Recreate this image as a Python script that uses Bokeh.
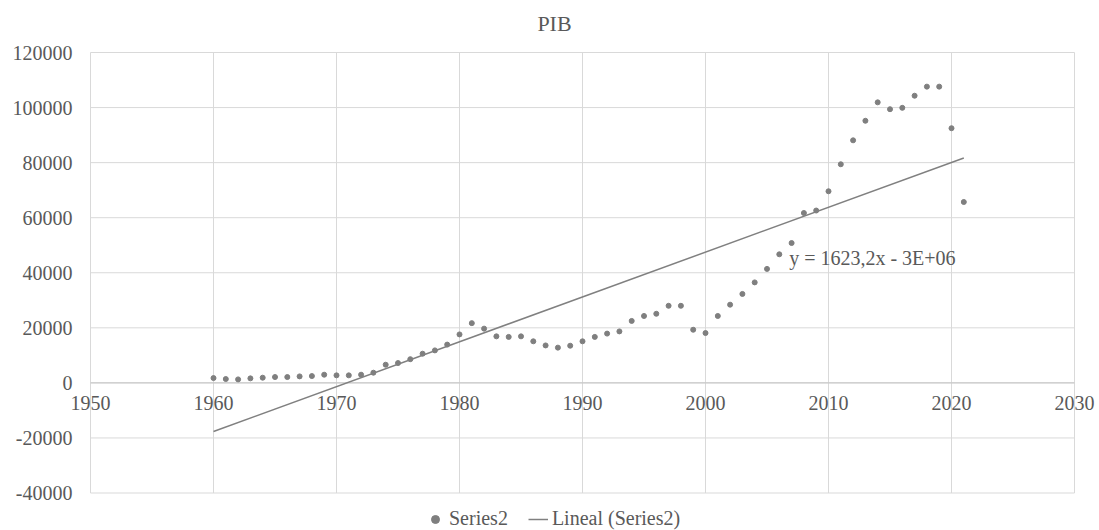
import numpy as np
from bokeh.plotting import figure
from bokeh.models import Legend, LegendItem, Label, ColumnDataSource, Range1d
from bokeh.core.properties import value
from bokeh.embed import file_html
from bokeh.resources import INLINE

years = [1960, 1961, 1962, 1963, 1964, 1965, 1966, 1967, 1968, 1969,
         1970, 1971, 1972, 1973, 1974, 1975, 1976, 1977, 1978, 1979,
         1980, 1981, 1982, 1983, 1984, 1985, 1986, 1987, 1988, 1989,
         1990, 1991, 1992, 1993, 1994, 1995, 1996, 1997, 1998, 1999,
         2000, 2001, 2002, 2003, 2004, 2005, 2006, 2007, 2008, 2009,
         2010, 2011, 2012, 2013, 2014, 2015, 2016, 2017, 2018, 2019,
         2020, 2021]
pib = [1750, 1400, 1270, 1640, 1880, 2120, 2120, 2360, 2480, 2970,
       2730, 2730, 2970, 3700, 6600, 7200, 8600, 10600, 11800, 13900,
       17600, 21700, 19700, 16900, 16700, 16900, 15100, 13600, 12800, 13500,
       15100, 16700, 17900, 18700, 22500, 24300, 25100, 28000, 28000, 19300,
       18100, 24300, 28400, 32300, 36500, 41400, 46700, 50800, 61700, 62600,
       69600, 79400, 88100, 95200, 101900, 99400, 99900, 104300, 107600, 107600,
       92500, 65700]
x_ticks = [1950, 1960, 1970, 1980, 1990, 2000, 2010, 2020, 2030]
y_ticks = [-40000, -20000, 0, 20000, 40000, 60000, 80000, 100000, 120000]
series_name = "Series2"
trend_name = "Lineal (Series2)"
equation = "y = 1623,2x - 3E+06"
title_text = "PIB"

# linear trend (least squares on the series)
slope, intercept = np.polyfit(np.array(years, dtype=float), np.array(pib, dtype=float), 1)
trend_x = [years[0], years[-1]]
trend_y = [slope * years[0] + intercept, slope * years[-1] + intercept]

FONT = "Liberation Serif"
TXT = "#595959"
GRID = "#d9d9d9"

W, H = 1099, 530
# plot area inside the canvas (pixels): left, right, top, bottom
PL, PR, PT, PB = 90, 1074, 52, 492.5
xs = (x_ticks[-1] - x_ticks[0]) / (PR - PL)      # data units per pixel
ys = (y_ticks[-1] - y_ticks[0]) / (PB - PT)
x_rng = Range1d(x_ticks[0] - PL * xs, x_ticks[-1] + (W - PR) * xs)
y_rng = Range1d(y_ticks[0] - (H - PB) * ys, y_ticks[-1] + PT * ys)

p = figure(width=W, height=H, x_range=x_rng, y_range=y_rng, title=None,
           output_backend="svg", toolbar_location=None,
           x_axis_location=None, y_axis_location=None, min_border=0)
p.outline_line_color = None
p.grid.visible = False
p.background_fill_color = "white"
p.border_fill_color = "white"

# grid lines
p.segment(x0=x_ticks, x1=x_ticks, y0=[y_ticks[0]] * len(x_ticks),
          y1=[y_ticks[-1]] * len(x_ticks), line_color=GRID, line_width=1)
p.segment(x0=[x_ticks[0]] * len(y_ticks), x1=[x_ticks[-1]] * len(y_ticks),
          y0=y_ticks, y1=y_ticks, line_color=GRID, line_width=1)
# horizontal axis line at 0
p.segment(x0=[x_ticks[0]], x1=[x_ticks[-1]], y0=[0], y1=[0], line_color="#c4c4c4", line_width=1)

# tick labels
ysrc = ColumnDataSource(dict(x=[x_ticks[0]] * len(y_ticks), y=y_ticks, t=[str(v) for v in y_ticks]))
p.text("x", "y", text="t", source=ysrc, text_font=value(FONT), text_font_size="20px",
       text_color=TXT, text_align="right", text_baseline="middle", x_offset=-18)
xsrc = ColumnDataSource(dict(x=x_ticks, y=[0] * len(x_ticks), t=[str(v) for v in x_ticks]))
p.text("x", "y", text="t", source=xsrc, text_font=value(FONT), text_font_size="20px",
       text_color=TXT, text_align="center", text_baseline="top", y_offset=13)

src = ColumnDataSource(dict(x=years, y=pib))
pts = p.scatter("x", "y", source=src, size=5, color="#7f7f7f")
ln = p.line(trend_x, trend_y, line_color="#808080", line_width=1.5)

# title and trend equation
p.add_layout(Label(x=(x_ticks[0] + (554 - PL) * xs), y=y_ticks[-1] + (PT - 23) * ys,
                   text=title_text, text_font=FONT, text_font_size="22px", text_color=TXT,
                   text_align="center", text_baseline="middle"))
p.add_layout(Label(x=2006.8, y=45300, text=equation, text_font=FONT,
                   text_font_size="20px", text_color=TXT, text_baseline="middle"))

legend = Legend(items=[LegendItem(label=series_name, renderers=[pts]),
                       LegendItem(label=trend_name, renderers=[ln])],
                orientation="horizontal", location=(425, 0),
                label_text_font=FONT, label_text_font_size="20px",
                label_text_color=TXT, border_line_color=None,
                background_fill_alpha=0, padding=0, margin=0, spacing=20,
                glyph_width=20, glyph_height=20, label_height=20, label_standoff=4)
p.add_layout(legend, "center")

open("out.html", "w").write(file_html(p, INLINE))
